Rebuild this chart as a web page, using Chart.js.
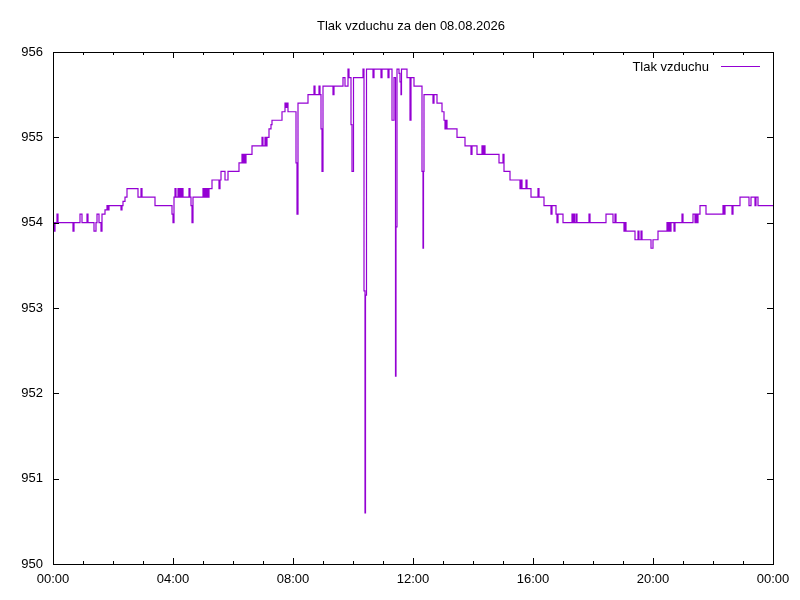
<!DOCTYPE html>
<html>
<head>
<meta charset="utf-8">
<script src="https://cdn.jsdelivr.net/npm/chart.js@4/dist/chart.umd.min.js"></script>
<style>
  body { margin: 0; background: #fff; }
  canvas { display: block; }
</style>
</head>
<body>
<canvas id="graf" width="800" height="600"></canvas>
<script>
var titleText = 'Tlak vzduchu za den 08.08.2026';
var seriesName = 'Tlak vzduchu';
var tickLabels = ['00:00', '04:00', '08:00', '12:00', '16:00', '20:00', '00:00'];

// minuty od pulnoci, kdy se hodnota zmenila
var minutes = [
    0, 2, 4, 8, 10, 40, 42, 54, 58, 68,
    70, 82, 86, 88, 92, 96, 98, 104, 108, 110,
    112, 136, 138, 140, 144, 148, 170, 176, 178, 204,
    238, 240, 242, 244, 246, 250, 252, 254, 256, 258,
    260, 272, 274, 276, 278, 280, 300, 302, 304, 306,
    308, 310, 312, 318, 332, 334, 336, 344, 350, 372,
    378, 380, 382, 384, 386, 398, 418, 420, 424, 426,
    428, 432, 436, 438, 458, 464, 466, 468, 470, 486,
    488, 490, 510, 522, 524, 532, 534, 536, 538, 540,
    560, 562, 580, 584, 590, 592, 596, 598, 601, 620,
    622, 624, 625, 627, 640, 642, 656, 658, 670, 672,
    678, 682, 685, 686, 688, 692, 694, 696, 697, 708,
    714, 716, 722, 738, 740, 741, 742, 760, 762, 768,
    778, 782, 784, 786, 788, 808, 824, 836, 838, 848,
    858, 860, 862, 864, 892, 900, 902, 914, 934, 936,
    938, 946, 948, 956, 970, 972, 982, 996, 998, 1006,
    1008, 1010, 1020, 1038, 1040, 1041, 1043, 1046, 1048, 1072,
    1074, 1106, 1120, 1124, 1126, 1142, 1144, 1146, 1164, 1170,
    1172, 1176, 1178, 1196, 1200, 1210, 1228, 1230, 1232, 1234,
    1236, 1242, 1244, 1258, 1260, 1280, 1284, 1286, 1288, 1290,
    1294, 1306, 1340, 1342, 1344, 1358, 1360, 1374, 1392, 1396,
    1404, 1406, 1410, 1440
];

// tlak v hPa
var pressure = [
    954.0, 953.9, 954.0, 954.1, 954.0, 953.9, 954.0, 954.1, 954.0, 954.1,
    954.0, 953.9, 954.0, 954.1, 954.0, 953.9, 954.1, 954.15, 954.2, 954.15,
    954.2, 954.15, 954.2, 954.25, 954.3, 954.4, 954.3, 954.4, 954.3, 954.2,
    954.1, 954.0, 954.3, 954.4, 954.3, 954.4, 954.3, 954.4, 954.3, 954.4,
    954.3, 954.4, 954.3, 954.2, 954.0, 954.3, 954.4, 954.3, 954.4, 954.3,
    954.4, 954.3, 954.4, 954.5, 954.4, 954.5, 954.6, 954.5, 954.6, 954.7,
    954.8, 954.7, 954.8, 954.7, 954.8, 954.9, 955.0, 954.9, 955.0, 954.9,
    955.0, 955.1, 955.15, 955.2, 955.3, 955.4, 955.35, 955.4, 955.3, 954.7,
    954.1, 955.4, 955.5, 955.6, 955.5, 955.6, 955.5, 955.1, 954.6, 955.6,
    955.5, 955.6, 955.7, 955.6, 955.8, 955.7, 955.15, 954.6, 955.7, 955.8,
    953.2, 950.6, 953.15, 955.8, 955.7, 955.8, 955.7, 955.8, 955.7, 955.8,
    955.2, 955.7, 952.2, 953.95, 955.8, 955.75, 955.65, 955.5, 955.8, 955.7,
    955.2, 955.7, 955.6, 954.6, 953.7, 954.6, 955.5, 955.4, 955.5, 955.4,
    955.3, 955.2, 955.1, 955.2, 955.1, 955.0, 954.9, 954.8, 954.9, 954.8,
    954.9, 954.8, 954.9, 954.8, 954.7, 954.8, 954.6, 954.5, 954.4, 954.5,
    954.4, 954.5, 954.4, 954.3, 954.4, 954.3, 954.2, 954.1, 954.2, 954.1,
    954.0, 954.1, 954.0, 954.1, 954.0, 954.1, 954.0, 954.1, 954.0, 954.1,
    954.0, 954.1, 954.0, 954.1, 954.0, 953.9, 954.0, 953.9, 953.8, 953.9,
    953.8, 953.9, 953.8, 953.7, 953.8, 953.9, 954.0, 953.9, 954.0, 953.9,
    954.0, 953.9, 954.0, 954.1, 954.0, 954.1, 954.0, 954.1, 954.0, 954.1,
    954.2, 954.1, 954.2, 954.1, 954.2, 954.1, 954.2, 954.3, 954.2, 954.3,
    954.2, 954.3, 954.2, 954.2
];

var FAMILY = '"Liberation Sans", Arial, sans-serif';
var FONT = '13px ' + FAMILY;
var LINE = '#9400d3';

// ramecek, ticky dovnitr, titulek a legenda jako v gnuplotu
var gnuplotFrame = {
    id: 'gnuplotFrame',
    afterDraw: function(chart) {
        var ctx = chart.ctx;
        var a = chart.chartArea;
        var xs = chart.scales.x;
        var ys = chart.scales.y;
        ctx.save();
        ctx.strokeStyle = '#000';
        ctx.lineWidth = 1;
        ctx.beginPath();
        for (var h = 0; h <= 24; h++) {
            var px = Math.round(xs.getPixelForValue(h * 60)) + 0.5;
            var len = (h % 4 === 0) ? 6 : 3;
            ctx.moveTo(px, a.bottom);
            ctx.lineTo(px, a.bottom - len);
            ctx.moveTo(px, a.top);
            ctx.lineTo(px, a.top + len);
        }
        ys.ticks.forEach(function(t) {
            var py = Math.round(ys.getPixelForValue(t.value)) + 0.5;
            ctx.moveTo(a.left, py);
            ctx.lineTo(a.left + 6, py);
            ctx.moveTo(a.right, py);
            ctx.lineTo(a.right - 6, py);
        });
        ctx.stroke();
        ctx.strokeRect(Math.round(a.left) + 0.5, Math.round(a.top) + 0.5,
            Math.round(a.right - a.left), Math.round(a.bottom - a.top));

        ctx.fillStyle = '#000';
        ctx.font = FONT;
        ctx.textBaseline = 'middle';
        ctx.textAlign = 'center';
        ctx.fillText(titleText, 411, 26);

        ctx.textAlign = 'right';
        ctx.fillText(seriesName, 709, 67);
        ctx.strokeStyle = LINE;
        ctx.beginPath();
        ctx.moveTo(721, 66.5);
        ctx.lineTo(760, 66.5);
        ctx.stroke();
        ctx.restore();
    }
};

var points = minutes.map(function(m, i) {
    return { x: m, y: pressure[i] };
});

new Chart(document.getElementById('graf'), {
    type: 'line',
    data: {
        datasets: [{
            label: seriesName,
            data: points,
            stepped: true,
            borderColor: LINE,
            borderWidth: 1.2,
            pointRadius: 0,
            fill: false,
            tension: 0
        }]
    },
    options: {
        responsive: false,
        animation: false,
        devicePixelRatio: 1,
        layout: { padding: { left: 0, top: 52, right: 27, bottom: 0 } },
        plugins: {
            legend: { display: false },
            title: { display: false },
            tooltip: { enabled: false }
        },
        scales: {
            x: {
                type: 'linear',
                min: 0,
                max: 1440,
                grid: { display: false, drawTicks: false },
                border: { display: false },
                ticks: {
                    stepSize: 240,
                    padding: 8,
                    maxRotation: 0,
                    color: '#000',
                    font: { family: FAMILY, size: 13 },
                    callback: function(v, i) { return tickLabels[i]; }
                },
                afterFit: function(s) { s.height = 36; }
            },
            y: {
                min: 950,
                max: 956,
                grid: { display: false, drawTicks: false },
                border: { display: false },
                ticks: {
                    stepSize: 1,
                    padding: 10,
                    color: '#000',
                    font: { family: FAMILY, size: 13 }
                },
                afterFit: function(s) { s.width = 53; }
            }
        }
    },
    plugins: [gnuplotFrame]
});
</script>
</body>
</html>
